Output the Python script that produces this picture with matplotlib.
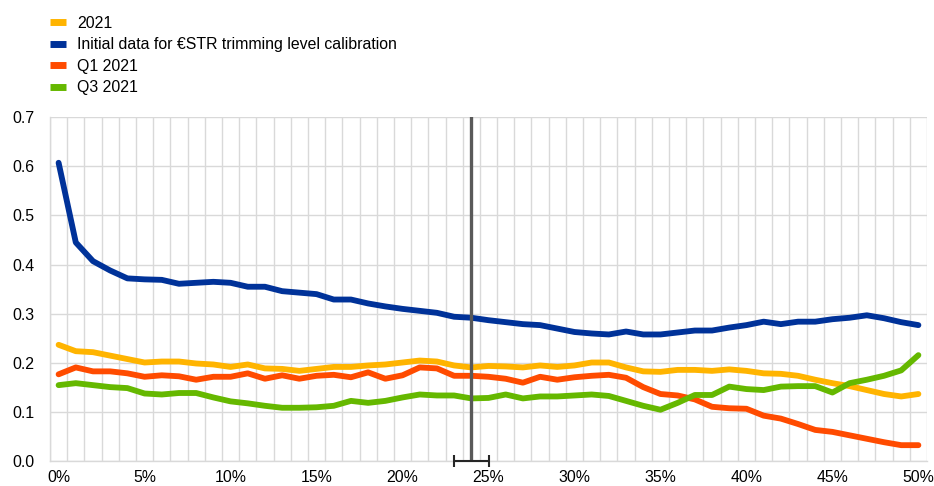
import matplotlib
matplotlib.use("Agg")
import matplotlib.pyplot as plt
import numpy as np

plt.rcParams['font.family'] = ['Liberation Sans', 'DejaVu Sans']

trim_pct = list(range(0, 51))

series_2021 = [0.237, 0.224, 0.222, 0.215, 0.208, 0.201, 0.203, 0.203, 0.199, 0.197,
               0.192, 0.197, 0.189, 0.188, 0.184, 0.188, 0.192, 0.192, 0.195, 0.197,
               0.201, 0.205, 0.203, 0.195, 0.191, 0.194, 0.193, 0.191, 0.195, 0.192,
               0.195, 0.201, 0.201, 0.191, 0.183, 0.182, 0.186, 0.186, 0.184, 0.187,
               0.184, 0.179, 0.178, 0.174, 0.166, 0.159, 0.153, 0.145, 0.137, 0.132,
               0.137]
series_initial = [0.607, 0.445, 0.407, 0.388, 0.372, 0.370, 0.369, 0.361, 0.363, 0.365,
                  0.363, 0.355, 0.355, 0.346, 0.343, 0.340, 0.329, 0.329, 0.321, 0.315,
                  0.310, 0.306, 0.302, 0.294, 0.292, 0.287, 0.283, 0.279, 0.277, 0.270,
                  0.263, 0.260, 0.258, 0.264, 0.258, 0.258, 0.262, 0.266, 0.266, 0.272,
                  0.277, 0.284, 0.279, 0.284, 0.284, 0.289, 0.292, 0.297, 0.291, 0.283,
                  0.277]
series_q1 = [0.177, 0.191, 0.183, 0.183, 0.179, 0.172, 0.175, 0.173, 0.166, 0.172,
             0.172, 0.179, 0.168, 0.175, 0.168, 0.174, 0.176, 0.171, 0.181, 0.168,
             0.175, 0.191, 0.189, 0.174, 0.174, 0.172, 0.168, 0.160, 0.172, 0.166,
             0.171, 0.174, 0.176, 0.170, 0.151, 0.137, 0.134, 0.126, 0.111, 0.108,
             0.107, 0.093, 0.087, 0.076, 0.064, 0.060, 0.053, 0.046, 0.039, 0.033,
             0.033]
series_q3 = [0.155, 0.159, 0.155, 0.151, 0.149, 0.138, 0.136, 0.139, 0.139, 0.130,
             0.122, 0.118, 0.113, 0.109, 0.109, 0.110, 0.113, 0.123, 0.119, 0.123,
             0.130, 0.136, 0.134, 0.134, 0.128, 0.129, 0.136, 0.128, 0.132, 0.132,
             0.134, 0.136, 0.133, 0.123, 0.113, 0.105, 0.119, 0.135, 0.135, 0.152,
             0.147, 0.145, 0.152, 0.153, 0.153, 0.140, 0.159, 0.166, 0.174, 0.185,
             0.216]

labels = ["2021", "Initial data for \u20acSTR trimming level calibration", "Q1 2021", "Q3 2021"]
colors = ["#FFB400", "#003299", "#FF4B00", "#65B800"]

selected_level = 24
selected_range = 1

fig = plt.figure(figsize=(9.34, 4.86), dpi=100)
ax = fig.add_axes([50/934, 1-461.4/486, 877/934, (461.4-117)/486])

grid_c = "#d9d9d9"
for i, (vals, lab, c) in enumerate(zip([series_2021, series_initial, series_q1, series_q3], labels, colors)):
    ax.plot(trim_pct, vals, color=c, lw=4.2, label=lab, solid_capstyle='round', solid_joinstyle='round', zorder=3 + i)

ax.axvline(selected_level, color="#595959", lw=2.4, zorder=8)
ax.errorbar([selected_level], [0], xerr=[selected_range], color="#262626", lw=1.5,
            capsize=4, capthick=1.5, fmt='none', clip_on=False, zorder=9)

fs = 11.4
ax.set_xlim(-0.5, 50.5)
ax.set_ylim(0, 0.7)
ax.set_xticks(np.arange(-0.5, 51, 1), minor=True)
ax.set_xticks(np.arange(0, 51, 5))
ax.set_xticklabels([f"{v}%" for v in range(0, 51, 5)])
ax.set_yticks(np.arange(0, 0.71, 0.1))
ax.set_yticklabels([f"{v:.1f}" for v in np.arange(0, 0.71, 0.1)])
ax.grid(True, which='minor', axis='x', color=grid_c, lw=1.0, zorder=0)
ax.grid(True, which='major', axis='y', color=grid_c, lw=1.0, zorder=0)
ax.set_axisbelow(True)
ax.tick_params(axis='both', which='both', length=0, labelsize=fs, colors="#000000")
ax.tick_params(axis='x', pad=6)
ax.tick_params(axis='y', pad=11)
for s in ['top', 'right']:
    ax.spines[s].set_visible(False)
for s in ['left', 'bottom']:
    ax.spines[s].set_color(grid_c)
    ax.spines[s].set_linewidth(1.0)

leg = fig.legend(loc='upper left', bbox_to_anchor=(50/934, 1-15.5/486), frameon=False,
                 fontsize=fs, handlelength=1.0, handletextpad=0.7, labelspacing=0.42,
                 borderpad=0, borderaxespad=0)
for h in leg.get_lines():
    h.set_linewidth(5)
    h.set_solid_capstyle('butt')

fig.savefig("out.png", dpi=100)
